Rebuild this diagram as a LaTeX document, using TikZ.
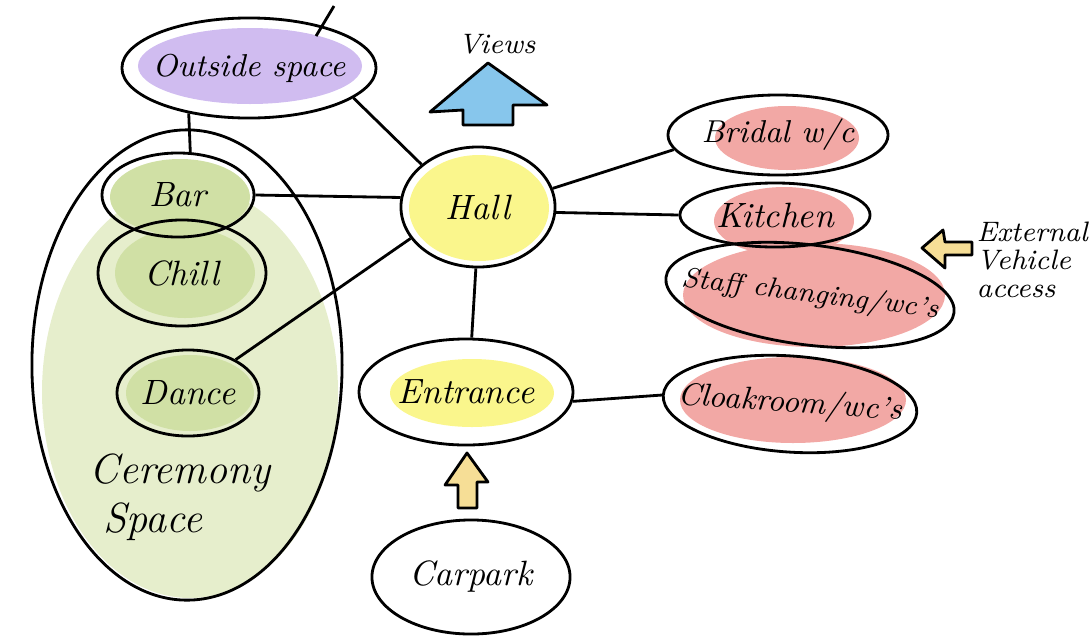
\documentclass[tikz,border=0pt]{standalone}
\usetikzlibrary{shapes.geometric}

\definecolor{outpurple}{RGB}{208,188,240}
\definecolor{viewblue}{RGB}{135,198,236}
\definecolor{hallyellow}{RGB}{250,246,140}
\definecolor{cerlight}{RGB}{230,238,204}
\definecolor{cergreen}{RGB}{208,224,165}
\definecolor{servpink}{RGB}{242,168,165}
\definecolor{accessorange}{RGB}{246,222,150}
\newcommand{\rtxt}[1]{\makebox[0pt]{#1}}

\begin{document}
\begin{tikzpicture}[x=0.01cm, y=-0.01cm,
        room/.style={draw, ellipse, line width=0.8pt, inner sep=0pt, font=\itshape},
        link/.style={line width=0.8pt},
        blockarrow/.style={draw=black, line width=0.8pt, line join=round}]
        \useasboundingbox (0,0) rectangle (1091,639);

        \fill[cerlight] (190,392) ellipse [x radius=148, y radius=206];
        \fill[cergreen] (180,197) ellipse [x radius=70, y radius=38];
        \fill[cergreen] (185,273) ellipse [x radius=70, y radius=45];
        \fill[cergreen] (190,393) ellipse [x radius=64, y radius=38];
        \fill[outpurple] (250,66) ellipse [x radius=112, y radius=38];
        \fill[hallyellow] (479,208) ellipse [x radius=70, y radius=53];
        \fill[hallyellow] (472,393) ellipse [x radius=82, y radius=34];
        \fill[servpink] (787,138) ellipse [x radius=72, y radius=32];
        \fill[servpink] (784,221) ellipse [x radius=70, y radius=34];
        \fill[servpink] (814,295) ellipse [x radius=131, y radius=52];
        \fill[servpink] (793,400) ellipse [x radius=113, y radius=43];

        \node[room, minimum width=3.1cm, minimum height=4.7cm] (cer) at (187,365) {};
        \node[font=\itshape\large, align=left, inner sep=0pt] (cerlbl) at (180,497) {Ceremony\\\hspace{4pt}Space};
        \node[room, minimum width=2.54cm, minimum height=1cm, font=\itshape\small] (oside) at (249,68) {\rtxt{Outside space}};
        \node[room, minimum width=1.52cm, minimum height=0.84cm] (bar) at (178,195) {\rtxt{Bar}};
        \node[room, minimum width=1.68cm, minimum height=1.06cm] (chill) at (182,273) {\rtxt{Chill}};
        \node[room, minimum width=1.42cm, minimum height=0.86cm] (dance) at (188,393) {\rtxt{Dance}};
        \node[room, minimum width=1.54cm, minimum height=1.2cm] (hall) at (478,207) {\rtxt{Hall}};
        \node[room, minimum width=2.14cm, minimum height=1.06cm] (entrance) at (466,392) {\rtxt{Entrance}};
        \node[room, minimum width=1.98cm, minimum height=1.14cm] (carpark) at (471,577) {\rtxt{Carpark}};
        \node[room, minimum width=2.2cm, minimum height=0.8cm, font=\itshape\small] (bridal) at (778,135) {\rtxt{Bridal w/c}};
        \node[room, minimum width=1.9cm, minimum height=0.64cm] (kitchen) at (775,215) {\rtxt{Kitchen}};
        \node[room, minimum width=2.9cm, minimum height=1cm, rotate=-7, font=\itshape\footnotesize] (staff) at (810,295) {\rtxt{Staff changing/wc's}};
        \node[room, minimum width=2.54cm, minimum height=0.96cm, rotate=-4, font=\itshape\small] (cloak) at (790,404) {\rtxt{Cloakroom/wc's}};
        \node[font=\itshape\footnotesize] (views) at (497,44) {Views};
        \node[font=\itshape\fontsize{8}{8}\selectfont, align=left, anchor=west, inner sep=0pt] (extlbl) at (976,260) {External\\Vehicle\\access};

        \coordinate (tickout) at (334,6);
        \draw[link, shorten <=-0.12cm] (oside.30) -- (tickout);
        \draw[link] (oside.-16) -- (hall.143);
        \draw[link] (oside.-143) -- (bar.74);
        \draw[link] (bar.east) -- (hall.173);
        \draw[link] (dance.35) -- (hall.-155);
        \draw[link] (hall.14) -- (bridal.188);
        \draw[link] (hall.-4) -- (kitchen.west);
        \draw[link] (hall.-92) -- (entrance.84);
        \draw[link] (entrance.-5) -- (cloak.west);

        \filldraw[blockarrow, fill=viewblue] (488,63) -- (547,105) -- (513,105) -- (513,125) -- (463,125) -- (463,110) -- (430,112) -- cycle;
        \filldraw[blockarrow, fill=accessorange] (467,453) -- (488,482) -- (477,482) -- (477,508) -- (458,508) -- (458,485) -- (445,485) -- cycle;
        \filldraw[blockarrow, fill=accessorange] (922,248) -- (943,230) -- (945,242) -- (972,242) -- (972,255) -- (945,255) -- (945,268) -- cycle;
\end{tikzpicture}
\end{document}
